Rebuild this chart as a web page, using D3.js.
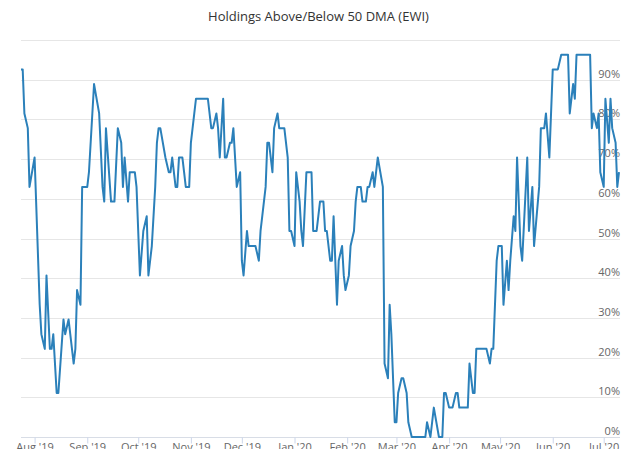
<!DOCTYPE html>
<html>
<head>
<meta charset="utf-8">
<script src="https://cdn.jsdelivr.net/npm/d3@7/dist/d3.min.js"></script>
<style>
  html, body { margin: 0; padding: 0; background: #ffffff; }
  svg { display: block; font-family: "Open Sans", "Noto Sans", sans-serif; }
</style>
</head>
<body>
<svg id="chart" width="637" height="449"></svg>
<script>
// Share of EWI holdings trading above their 50-day moving average (percent)
const dates = [
  "2019-07-24","2019-07-25","2019-07-26","2019-07-28","2019-07-29","2019-08-01","2019-08-04","2019-08-05",
  "2019-08-07","2019-08-08","2019-08-10","2019-08-11","2019-08-12","2019-08-14","2019-08-15","2019-08-18",
  "2019-08-19","2019-08-21","2019-08-22","2019-08-24","2019-08-25","2019-08-26","2019-08-28","2019-08-29",
  "2019-09-01","2019-09-02","2019-09-04","2019-09-05","2019-09-08","2019-09-10","2019-09-11","2019-09-12",
  "2019-09-15","2019-09-17","2019-09-19","2019-09-21","2019-09-22","2019-09-23","2019-09-25","2019-09-26",
  "2019-09-29","2019-09-30","2019-10-02","2019-10-04","2019-10-06","2019-10-07","2019-10-09","2019-10-11",
  "2019-10-12","2019-10-13","2019-10-14","2019-10-17","2019-10-19","2019-10-20","2019-10-21","2019-10-23",
  "2019-10-24","2019-10-25","2019-10-27","2019-10-28","2019-10-29","2019-10-31","2019-11-01","2019-11-03",
  "2019-11-04","2019-11-11","2019-11-13","2019-11-14","2019-11-16","2019-11-17","2019-11-18","2019-11-20",
  "2019-11-21","2019-11-22","2019-11-24","2019-11-25","2019-11-26","2019-11-28","2019-11-30","2019-12-01",
  "2019-12-02","2019-12-04","2019-12-05","2019-12-09","2019-12-11","2019-12-12","2019-12-13","2019-12-15",
  "2019-12-16","2019-12-17","2019-12-19","2019-12-20","2019-12-22","2019-12-23","2019-12-26","2019-12-28",
  "2019-12-29","2019-12-30","2020-01-01","2020-01-02","2020-01-04","2020-01-05","2020-01-06","2020-01-08",
  "2020-01-11","2020-01-12","2020-01-14","2020-01-15","2020-01-16","2020-01-18","2020-01-19","2020-01-20",
  "2020-01-22","2020-01-23","2020-01-24","2020-01-26","2020-01-27","2020-01-29","2020-01-30","2020-01-31",
  "2020-02-02","2020-02-03","2020-02-05","2020-02-06","2020-02-07","2020-02-09","2020-02-10","2020-02-12",
  "2020-02-13","2020-02-14","2020-02-16","2020-02-17","2020-02-19","2020-02-22","2020-02-23","2020-02-25",
  "2020-02-26","2020-02-27","2020-02-29","2020-03-01","2020-03-02","2020-03-04","2020-03-05","2020-03-07",
  "2020-03-08","2020-03-10","2020-03-18","2020-03-19","2020-03-21","2020-03-23","2020-03-26","2020-03-28",
  "2020-03-29","2020-03-30","2020-04-01","2020-04-03","2020-04-05","2020-04-06","2020-04-07","2020-04-12",
  "2020-04-13","2020-04-15","2020-04-16","2020-04-17","2020-04-23","2020-04-25","2020-04-26","2020-04-27",
  "2020-04-29","2020-04-30","2020-05-02","2020-05-03","2020-05-05","2020-05-06","2020-05-07","2020-05-09",
  "2020-05-10","2020-05-11","2020-05-13","2020-05-14","2020-05-17","2020-05-18","2020-05-20","2020-05-21",
  "2020-05-24","2020-05-25","2020-05-27","2020-05-28","2020-05-30","2020-06-01","2020-06-04","2020-06-06",
  "2020-06-10","2020-06-11","2020-06-13","2020-06-14","2020-06-15","2020-06-23","2020-06-24","2020-06-25",
  "2020-06-27","2020-06-28","2020-06-29","2020-07-01","2020-07-02","2020-07-04","2020-07-05","2020-07-06",
  "2020-07-08","2020-07-09","2020-07-10"
];

const pctAbove = [
  92.6, 92.6, 81.5, 77.8, 63.0, 70.4, 33.3, 25.9,
  22.2, 40.7, 22.2, 22.2, 25.9, 11.1, 11.1, 29.6,
  25.9, 29.6, 25.9, 18.5, 22.2, 37.0, 33.3, 63.0,
  63.0, 66.7, 81.5, 88.9, 81.5, 63.0, 59.3, 77.8,
  59.3, 59.3, 77.8, 74.1, 63.0, 70.4, 59.3, 66.7,
  66.7, 63.0, 40.7, 51.9, 55.6, 40.7, 48.1, 63.0,
  74.1, 77.8, 77.8, 70.4, 66.7, 66.7, 70.4, 63.0,
  63.0, 70.4, 70.4, 66.7, 63.0, 63.0, 74.1, 81.5,
  85.2, 85.2, 77.8, 77.8, 81.5, 77.8, 70.4, 85.2,
  70.4, 70.4, 74.1, 74.1, 77.8, 63.0, 66.7, 44.4,
  40.7, 51.9, 48.1, 48.1, 44.4, 51.9, 55.6, 63.0,
  74.1, 74.1, 66.7, 77.8, 81.5, 77.8, 77.8, 70.4,
  51.9, 51.9, 48.1, 66.7, 59.3, 51.9, 48.1, 66.7,
  66.7, 51.9, 51.9, 55.6, 59.3, 59.3, 51.9, 51.9,
  44.4, 44.4, 55.6, 33.3, 44.4, 48.1, 40.7, 37.0,
  40.7, 48.1, 51.9, 59.3, 63.0, 63.0, 59.3, 59.3,
  63.0, 63.0, 66.7, 63.0, 70.4, 63.0, 18.5, 14.8,
  33.3, 25.9, 3.7, 3.7, 11.1, 14.8, 14.8, 11.1,
  3.7, 0.0, 0.0, 3.7, 0.0, 7.4, 0.0, 0.0,
  11.1, 11.1, 7.4, 7.4, 11.1, 11.1, 7.4, 7.4,
  18.5, 11.1, 11.1, 22.2, 22.2, 18.5, 22.2, 22.2,
  44.4, 48.1, 48.1, 33.3, 44.4, 37.0, 44.4, 55.6,
  51.9, 70.4, 48.1, 44.4, 70.4, 51.9, 63.0, 48.1,
  63.0, 77.8, 77.8, 81.5, 70.4, 92.6, 92.6, 96.3,
  96.3, 81.5, 88.9, 85.2, 96.3, 96.3, 77.8, 81.5,
  77.8, 81.5, 66.7, 63.0, 85.2, 74.1, 85.2, 77.8,
  74.1, 63.0, 66.7
];

const yTickValues = [0, 10, 20, 30, 40, 50, 60, 70, 80, 90];
const gridValues = [0, 10, 20, 30, 40, 50, 60, 70, 80, 90, 100];
const titleText = "Holdings Above/Below 50 DMA (EWI)";

const parse = d3.timeParse("%Y-%m-%d");
const series = dates.map((d, i) => ({ date: parse(d), value: pctAbove[i] }));

const svg = d3.select("#chart");
const W = 637, H = 449;
const plot = { left: 21, right: 619, top: 40, bottom: 437 };

const x = d3.scaleTime()
  .domain(d3.extent(series, d => d.date))
  .range([plot.left, plot.right]);

const y = d3.scaleLinear()
  .domain([0, 100])
  .range([plot.bottom, plot.top]);

// title
svg.append("text")
  .attr("x", W / 2)
  .attr("y", 21)
  .attr("text-anchor", "middle")
  .attr("font-size", 13)
  .attr("fill", "#333333")
  .text(titleText);

// horizontal grid
svg.append("g")
  .selectAll("line")
  .data(gridValues)
  .join("line")
  .attr("x1", plot.left)
  .attr("x2", plot.right + 1)
  .attr("y1", d => Math.round(y(d)) + 0.5)
  .attr("y2", d => Math.round(y(d)) + 0.5)
  .attr("stroke", d => d === 0 ? "#d8dde6" : "#e6e6e6")
  .attr("stroke-width", 1);

// right-hand percent labels, sitting just above each grid line
svg.append("g")
  .selectAll("text")
  .data(yTickValues)
  .join("text")
  .attr("x", plot.right + 1)
  .attr("y", d => y(d) - 2)
  .attr("text-anchor", "end")
  .attr("font-size", 11)
  .attr("fill", "#666666")
  .text(d => d + "%");

// monthly x axis; its labels run into the bottom edge of the frame
const xAxis = d3.axisBottom(x)
  .ticks(d3.timeMonth.every(1))
  .tickFormat(d3.timeFormat("%b '%y"))
  .tickSize(6)
  .tickPadding(0);

const gx = svg.append("g")
  .attr("transform", `translate(0,${Math.round(y(0)) + 0.5})`)
  .call(xAxis);
gx.select(".domain").remove();
gx.selectAll(".tick line").attr("stroke", "#ccd6eb");
gx.selectAll(".tick text")
  .attr("font-size", 11)
  .attr("fill", "#666666")
  .attr("font-family", "\"Open Sans\", \"Noto Sans\", sans-serif");

// the series line
const line = d3.line()
  .x(d => x(d.date))
  .y(d => y(d.value));

svg.append("path")
  .datum(series)
  .attr("fill", "none")
  .attr("stroke", "#2b80ba")
  .attr("stroke-width", 2)
  .attr("stroke-linejoin", "round")
  .attr("d", line);
</script>
</body>
</html>
